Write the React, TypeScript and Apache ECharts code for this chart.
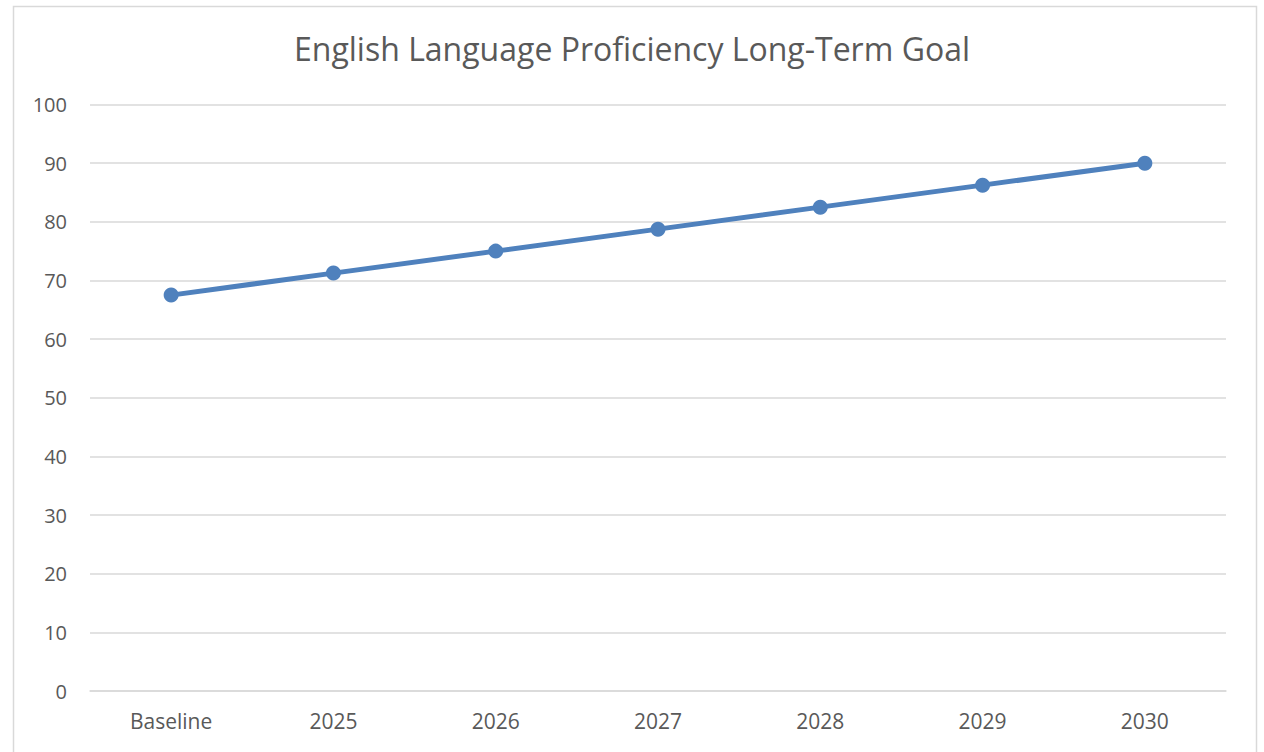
import React, { useEffect, useRef } from "react";
import * as echarts from "echarts";

const categories = ["Baseline", "2025", "2026", "2027", "2028", "2029", "2030"];
const goalValues = [67.5, 71.25, 75, 78.75, 82.5, 86.25, 90];
const titleText = "English Language Proficiency Long-Term Goal";

export default function App() {
  const ref = useRef<HTMLDivElement>(null);
  useEffect(() => {
    if (!ref.current) return;
    const chart = echarts.init(ref.current, null, { renderer: "svg" });
    const font = "'Open Sans', 'Noto Sans', sans-serif";
    chart.setOption({
      animation: false,
      backgroundColor: "#ffffff",
      title: {
        text: titleText,
        left: "center",
        top: 27,
        textStyle: { fontFamily: font, fontSize: 32, fontWeight: "normal", color: "#595959" },
      },
      graphic: [
        {
          type: "rect",
          shape: { x: 13.5, y: 6.5, width: 1243, height: 760 },
          style: { fill: "none", stroke: "#d9d9d9", lineWidth: 1.5 },
          silent: true,
          z: -1,
        },
      ],
      grid: { left: 90, right: 38, top: 104.5, bottom: 61, containLabel: false },
      xAxis: {
        type: "category",
        data: categories,
        boundaryGap: true,
        axisLine: { show: true, lineStyle: { color: "#d9d9d9", width: 1.5 } },
        axisTick: { show: false },
        axisLabel: { fontFamily: font, fontSize: 21, color: "#595959", margin: 19 },
      },
      yAxis: {
        type: "value",
        min: 0,
        max: 100,
        interval: 10,
        axisLine: { show: false },
        axisTick: { show: false },
        splitLine: { lineStyle: { color: "#d9d9d9", width: 1.5 } },
        axisLabel: { fontFamily: font, fontSize: 20, color: "#595959", margin: 23 },
      },
      series: [
        {
          type: "line",
          data: goalValues,
          symbol: "circle",
          symbolSize: 15,
          lineStyle: { color: "#4F81BD", width: 5 },
          itemStyle: { color: "#4F81BD" },
        },
      ],
    });
    return () => chart.dispose();
  }, []);
  return (
    <div
      ref={ref}
      style={{ position: "fixed", left: 0, top: 0, width: 1264, height: 752 }}
    />
  );
}
